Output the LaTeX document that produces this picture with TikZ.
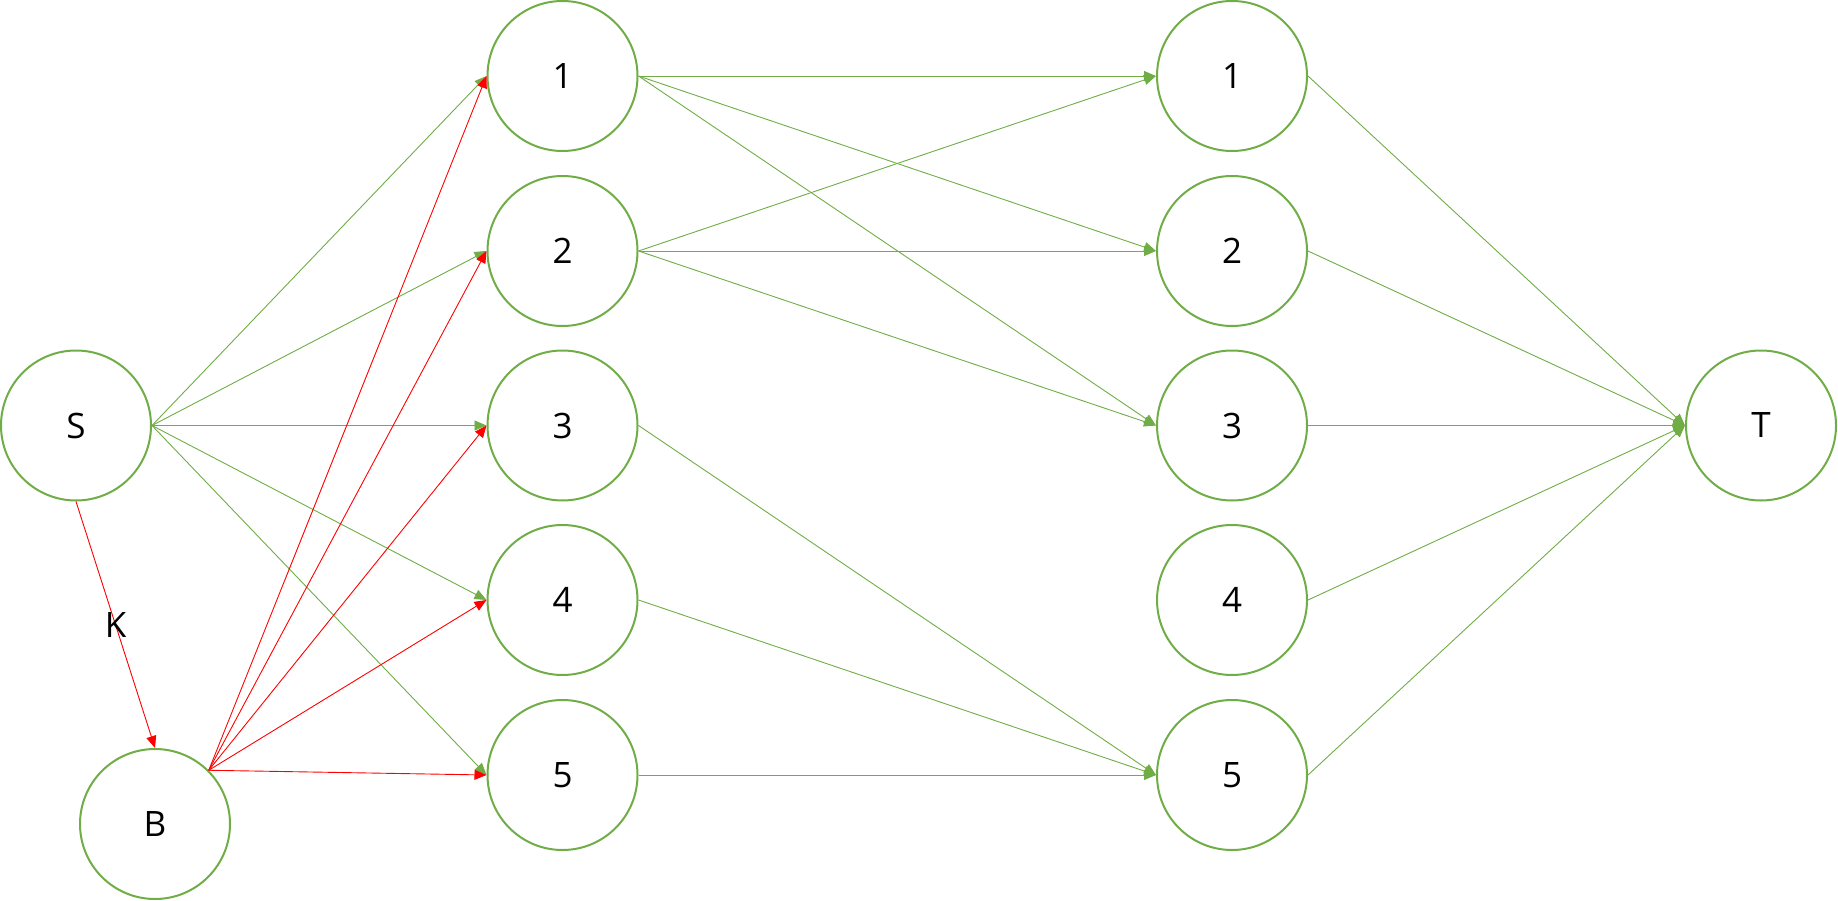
\documentclass[tikz,border=0pt]{standalone}
\usepackage{fontspec}
\setmainfont{Open Sans}
\usetikzlibrary{arrows.meta}
\definecolor{ogreen}{HTML}{70AD47}
\definecolor{ored}{HTML}{FF0000}
\begin{document}
\begin{tikzpicture}[x=1pt,y=-1pt,
  vtx/.style={circle,draw=ogreen,line width=2pt,minimum size=150pt,inner sep=0pt,
    font=\fontsize{35}{40}\selectfont},
  gedge/.style={draw=ogreen,line width=0.9pt,-{Triangle[length=12pt,width=10pt]}},
  redge/.style={draw=ored,line width=0.9pt,-{Triangle[length=12pt,width=10pt]}}]
\useasboundingbox (0,0) rectangle (1838,901);
\node[vtx] (S) at (76,425.5) {S};
\node[vtx] (B) at (155,824) {B};
\foreach \i/\y in {1/76,2/251,3/425.5,4/600,5/775}{
  \node[vtx] (a\i) at (562.5,\y) {\i};
  \node[vtx] (b\i) at (1232,\y) {\i};
}
\node[vtx] (T) at (1761,425.5) {T};
% S -> B
\draw[redge] (S.south) -- node[pos=0.5,font=\fontsize{35}{40}\selectfont,text=black] (K) {K} (B.north);
% S -> column 1
\foreach \i in {1,...,5}{
  \draw[gedge] (S.east) -- (a\i.west);
}
% B -> column 1
\foreach \i in {1,...,5}{
  \draw[redge] (B.north east) -- (a\i.west);
}
% column 1 -> column 2
\foreach \i/\j in {1/1,1/2,1/3,2/1,2/2,2/3,3/5,4/5,5/5}{
  \draw[gedge] (a\i.east) -- (b\j.west);
}
% column 2 -> T
\foreach \i in {1,...,5}{
  \draw[gedge] (b\i.east) -- (T.west);
}
\end{tikzpicture}
\end{document}
